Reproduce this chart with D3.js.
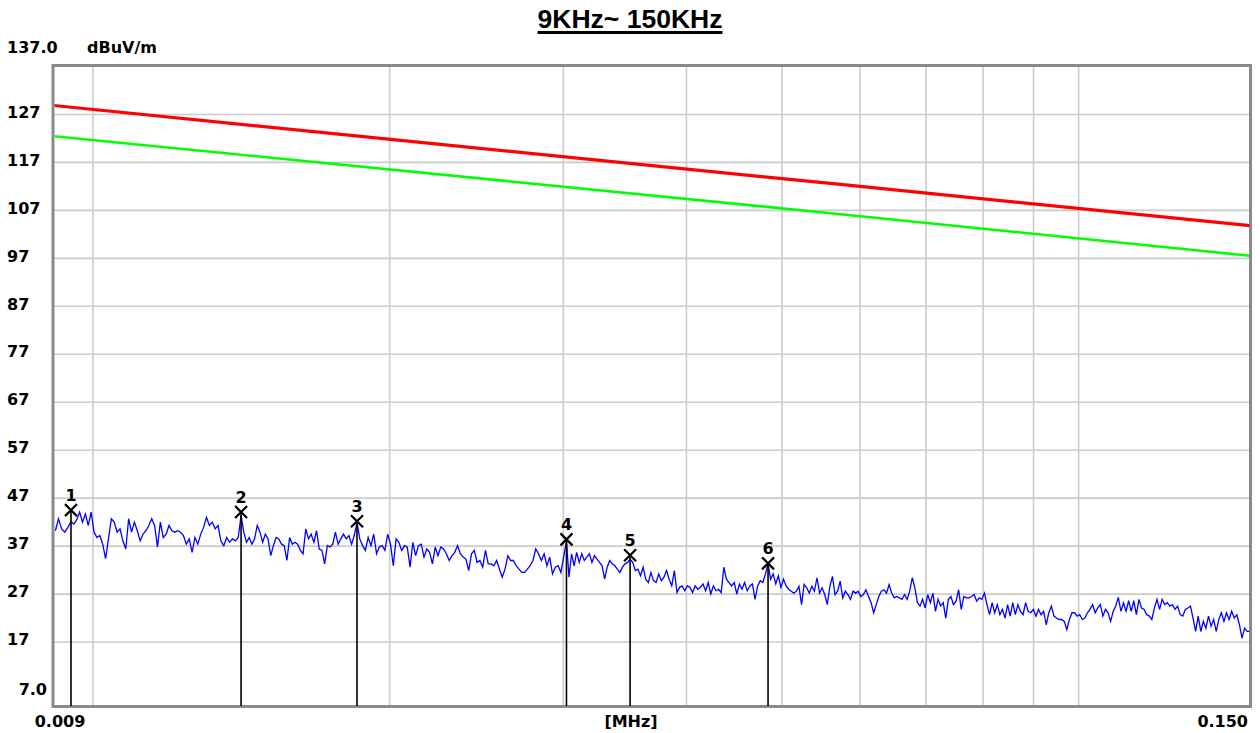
<!DOCTYPE html>
<html><head><meta charset="utf-8">
<script src="https://cdn.jsdelivr.net/npm/d3@7"></script>
<style>body{margin:0;background:#fff}svg{display:block}</style>
</head><body>
<svg id="c" width="1260" height="733"></svg>
<script>
// ---------- data ----------
const titleText = "9KHz~ 150KHz";
const yUnitLabel = "dBuV/m";
const xUnitLabel = "[MHz]";
const xEdgeLabels = ["0.009", "0.150"];
const yTopLabel = "137.0";
const yBottomLabel = "7.0";
const yGridValues = [17, 27, 37, 47, 57, 67, 77, 87, 97, 107, 117, 127];
const xGridValues = [0.01, 0.02, 0.03, 0.04, 0.05, 0.06, 0.07, 0.08, 0.09, 0.1];
const xDomainMHz = [0.00914, 0.1494];
const yDomain = [7, 137];

const limitFreqs = [0.009, 0.0574, 0.15];
const limitRed = [128.9, 112.3, 103.7];
const limitGreen = [122.5, 106.1, 97.4];

const markerIds = [1, 2, 3, 4, 5, 6];
const markerFreqs = [0.00951, 0.01415, 0.01855, 0.03026, 0.03511, 0.04846];
const markerLevels = [44.4, 44.0, 42.1, 38.3, 35.0, 33.3];

const traceStartMHz = 0.00917;
const traceStopMHz = 0.1493;
// trace readings split at the marker frequencies
const trace0 = [40.1, 42.6, 40.5, 39.8, 40.8];
const trace1 = [42.0, 41.5, 42.4, 44.0, 41.9, 43.6, 41.2, 44.0, 39.8, 38.7, 39.1, 37.3, 34.3, 38.4, 42.6, 41.9, 39.8, 40.5, 38.0, 36.3, 42.6, 39.8, 41.9, 40.1, 38.0, 39.4, 40.1, 41.2, 42.6, 41.2, 36.7, 41.9, 38.7, 39.4, 41.2, 40.1, 39.8, 40.1, 39.8, 39.1, 37.3, 38.4, 35.6, 38.7, 37.3, 39.4, 40.8, 42.9, 41.2, 41.9, 40.5, 41.2, 38.0, 37.0, 38.7, 37.7, 38.4, 38.0, 38.7];
const trace2 = [43.3, 39.8, 37.7, 38.7, 37.3, 38.4, 41.2, 39.8, 37.7, 39.4, 38.4, 34.9, 37.0, 38.7, 38.4, 37.3, 37.0, 33.9, 38.7, 37.3, 37.7, 37.3, 36.0, 35.3, 40.5, 38.4, 39.4, 37.7, 40.1, 36.3, 36.0, 33.2, 37.0, 36.7, 37.3, 39.8, 37.3, 38.4, 39.4, 38.4, 39.1, 37.3, 39.1];
const trace3 = [41.9, 38.4, 37.0, 36.0, 38.7, 37.0, 39.4, 35.3, 36.7, 37.0, 36.0, 39.4, 37.3, 32.8, 38.4, 37.7, 36.0, 37.0, 36.7, 32.5, 37.7, 34.9, 37.0, 37.3, 34.6, 36.3, 35.6, 33.2, 36.7, 34.9, 36.7, 36.3, 35.3, 33.9, 34.9, 35.6, 37.0, 35.3, 34.6, 34.2, 31.8, 35.3, 36.0, 33.5, 33.9, 32.5, 36.0, 33.2, 33.2, 32.8, 33.9, 32.1, 30.4, 32.1, 34.9, 33.9, 33.9, 32.8, 32.1, 31.4, 31.4, 32.1, 32.8, 33.9, 36.3, 35.3, 33.9, 35.3, 32.8, 34.6, 31.1, 32.5, 32.8, 31.4, 34.6];
const trace4 = [38.0, 30.4, 35.3, 32.8, 35.6, 33.5, 35.3, 33.9, 34.6, 35.3, 33.5, 34.9, 34.2, 33.5, 32.8, 30.0, 32.5, 33.9, 33.2, 32.8, 32.1, 31.4, 32.5, 33.2, 33.5];
const trace5 = [34.2, 33.5, 31.8, 32.1, 30.7, 32.5, 30.0, 29.3, 31.4, 29.7, 29.3, 31.1, 29.7, 30.4, 31.8, 30.0, 28.6, 31.8, 27.2, 28.3, 28.6, 27.6, 28.6, 28.3, 27.2, 28.6, 27.9, 28.3, 29.0, 27.6, 29.3, 26.9, 28.6, 27.6, 27.9, 27.2, 32.5, 30.0, 29.3, 28.6, 29.3, 26.9, 29.0, 27.9, 29.3, 27.6, 28.6, 29.0, 25.8, 28.6, 29.7, 29.3, 31.1];
const trace6 = [33.2, 30.0, 31.1, 29.0, 30.7, 28.3, 30.0, 28.6, 27.9,
  27.5, 27.1, 27.5, 28.5, 24.7, 28.9, 28.2, 27.1, 28.5, 27.5, 30.3, 27.1, 28.2, 26.8, 24.7, 28.5, 30.6, 26.8, 27.5, 29.6, 26.1, 27.5, 26.8, 25.8, 27.5, 27.1, 27.5, 26.4, 26.8, 27.8, 26.4, 25.1, 23.0, 24.7, 26.4, 27.5, 27.8, 27.1, 28.9, 27.1, 26.1, 26.4, 26.1, 25.8, 26.8, 25.8, 27.5, 30.3, 28.2, 25.1, 24.4, 25.8, 24.0, 26.8, 25.1, 27.1, 23.3, 25.8, 24.4, 25.1, 21.9, 25.8, 26.4, 24.7, 25.4, 27.8, 23.7, 26.4, 26.1, 26.1, 26.4, 26.8, 25.4, 26.1, 25.8, 27.1, 24.7, 22.6, 25.1, 23.0, 24.7, 22.6, 23.7, 21.9, 24.7, 22.3, 25.1, 22.6, 24.7, 23.3, 22.6, 25.1, 23.3, 23.0, 23.7, 22.3,
  23.7, 22.6, 23.3, 20.5, 23.0, 24.4, 22.3, 21.9, 21.6, 21.6, 21.2, 19.5, 21.6, 23.0, 23.0, 22.3, 22.6, 21.6, 21.9, 23.0, 23.7, 24.7, 23.0, 24.0, 24.7, 22.3, 23.7, 23.0, 21.2, 23.3, 24.4, 26.2, 23.3, 25.1, 23.3, 25.5, 23.3, 25.5, 22.6, 25.8, 24.0, 23.7, 22.6, 22.3, 21.6, 24.0, 25.8, 23.7, 25.8, 24.7, 25.1, 24.4, 24.7, 23.7, 24.4, 22.6, 22.3, 23.7, 24.0, 24.4, 21.9, 19.1, 22.3, 19.1, 21.2, 19.8, 22.3, 20.2, 21.6, 19.1, 21.6, 23.0, 21.2, 23.0, 21.6, 23.3, 21.9, 22.6, 20.5, 17.7, 19.8, 19.1, 19.1];

// ---------- layout ----------
const W = 1260, H = 733;
const plotL = 54, plotR = 1250, plotT = 66, plotB = 706;
const yAt7 = 689.5;
const labelFont = "'DejaVu Sans', Verdana, sans-serif";

const svg = d3.select("#c");
const x = d3.scaleLog().domain(xDomainMHz).range([plotL, plotR]);
const y = d3.scaleLinear().domain(yDomain).range([yAt7, plotT]);

svg.append("rect").attr("width", W).attr("height", H).attr("fill", "#fff");

// title
const title = svg.append("text").attr("x", 630).attr("y", 28)
  .attr("text-anchor", "middle")
  .style("font-family", "'Liberation Sans', Arial, sans-serif")
  .style("font-weight", "bold").style("font-size", "26.5px")
  .text(titleText);
const tw = title.node().getComputedTextLength();
svg.append("rect").attr("x", 630 - tw / 2).attr("y", 31).attr("width", tw).attr("height", 3).attr("fill", "#000");

// grid via axes
const gy = svg.append("g").attr("transform", `translate(${plotL},0)`)
  .call(d3.axisLeft(y).tickValues(yGridValues).tickSize(-(plotR - plotL)).tickFormat(d3.format("d")));
gy.select(".domain").remove();
gy.selectAll(".tick line").attr("stroke", "#cccccc").attr("stroke-width", 1.6);
gy.selectAll(".tick text").attr("x", 7 - plotL).attr("dy", "0.2em")
  .attr("text-anchor", "start").attr("fill", "#000")
  .style("font-family", labelFont).style("font-weight", "bold").style("font-size", "16px");
gy.attr("font-family", null).attr("font-size", null);

const gx = svg.append("g").attr("transform", `translate(0,${plotB})`)
  .call(d3.axisBottom(x).tickValues(xGridValues).tickSize(-(plotB - plotT)).tickFormat(""));
gx.select(".domain").remove();
gx.selectAll(".tick line").attr("stroke", "#cccccc").attr("stroke-width", 1.6);

// frame
svg.append("rect").attr("x", plotL - 1).attr("y", plotT - 0.5)
  .attr("width", plotR - plotL + 1.5).attr("height", plotB - plotT + 1)
  .attr("fill", "none").attr("stroke", "#8a8a8a").attr("stroke-width", 3);

// axis edge labels
const lab = (t, xx, yy, anchor) => svg.append("text").attr("x", xx).attr("y", yy)
  .attr("text-anchor", anchor).style("font-family", labelFont)
  .style("font-weight", "bold").style("font-size", "16px").attr("fill", "#000").text(t);
lab(yTopLabel, 7, 53, "start");
lab(yUnitLabel, 87, 53, "start");
lab(yBottomLabel, 47, y(7) + 5.5, "end");
lab(xEdgeLabels[0], 60, 727, "middle");
lab(xEdgeLabels[1], 1248, 727, "end");
lab(xUnitLabel, 631, 727, "middle");

// clip
svg.append("clipPath").attr("id", "pc").append("rect")
  .attr("x", plotL + 0.5).attr("y", plotT + 1).attr("width", plotR - plotL - 1).attr("height", plotB - plotT - 2);
const plot = svg.append("g").attr("clip-path", "url(#pc)");

// limit lines
const limLine = d3.line().x(d => x(d[0])).y(d => y(d[1]));
plot.append("path").datum(limitFreqs.map((f, i) => [f, limitGreen[i]]))
  .attr("d", limLine).attr("fill", "none").attr("stroke", "#00ff00").attr("stroke-width", 2.6);
plot.append("path").datum(limitFreqs.map((f, i) => [f, limitRed[i]]))
  .attr("d", limLine).attr("fill", "none").attr("stroke", "#ff0000").attr("stroke-width", 3.2);

// trace
const anchors = [traceStartMHz, ...markerFreqs, traceStopMHz];
const segs = [trace0, trace1, trace2, trace3, trace4, trace5, trace6];
const pts = [];
segs.forEach((lev, k) => {
  const a = anchors[k], b = anchors[k + 1];
  const last = k === segs.length - 1;
  const n = last ? lev.length - 1 : lev.length;
  lev.forEach((v, i) => pts.push([a * Math.pow(b / a, i / n), v]));
});
plot.append("path").datum(pts)
  .attr("d", d3.line().x(d => x(d[0])).y(d => y(d[1])))
  .attr("fill", "none").attr("stroke", "#0000ff").attr("stroke-width", 1.3)
  .attr("stroke-linejoin", "miter");

// markers
const mg = svg.append("g");
markerFreqs.forEach((f, i) => {
  const mx = x(f), my = y(markerLevels[i]);
  mg.append("line").attr("x1", mx).attr("x2", mx).attr("y1", my).attr("y2", plotB)
    .attr("stroke", "#000").attr("stroke-width", 1.6);
  const s = 6;
  mg.append("path").attr("d", `M${mx - s},${my - s}L${mx + s},${my + s}M${mx + s},${my - s}L${mx - s},${my + s}`)
    .attr("stroke", "#000").attr("stroke-width", 2.2).attr("fill", "none");
  mg.append("text").attr("x", mx).attr("y", my - 9).attr("text-anchor", "middle")
    .style("font-family", labelFont).style("font-weight", "bold").style("font-size", "16px")
    .attr("fill", "#000").text(markerIds[i]);
});
</script>
</body></html>
